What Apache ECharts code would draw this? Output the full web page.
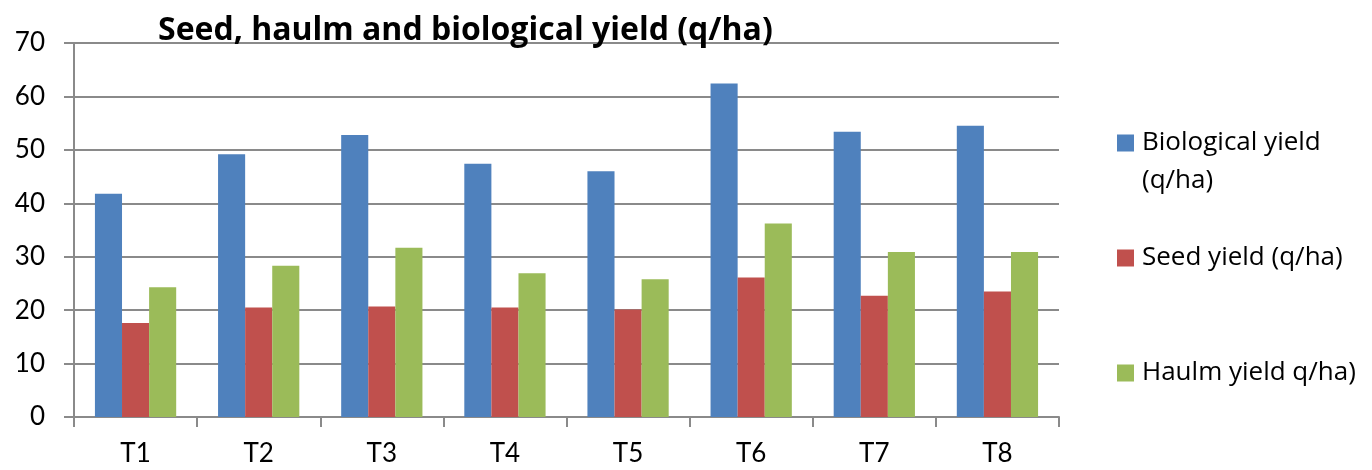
<!DOCTYPE html>
<html>
<head>
<meta charset="utf-8">
<script src="https://cdn.jsdelivr.net/npm/echarts@6/dist/echarts.min.js"></script>
<style>
html,body{margin:0;padding:0;background:#fff;}
#c{width:1372px;height:470px;}
</style>
</head>
<body>
<div id="c"></div>
<script>
const categories = ['T1','T2','T3','T4','T5','T6','T7','T8'];
const biologicalYield = [41.8, 49.2, 52.8, 47.4, 46.0, 62.4, 53.4, 54.5];
const seedYield = [17.6, 20.5, 20.7, 20.5, 20.1, 26.1, 22.7, 23.5];
const haulmYield = [24.3, 28.3, 31.7, 26.9, 25.8, 36.2, 30.9, 30.9];
const seriesNames = ['Biological yield (q/ha)', 'Seed yield (q/ha)', 'Haulm yield q/ha)'];
const yTicks = {min: 0, max: 70, interval: 10};

const FONT = 'Lato';
const LFONT = 'Open Sans';
const axisColor = '#8a8a8a';
const chart = echarts.init(document.getElementById('c'), null, {renderer: 'canvas'});

function legendAt(name, top, formatter) {
  return {
    data: [name],
    orient: 'vertical',
    left: 1117,
    top: top,
    padding: 0,
    itemWidth: 17,
    itemHeight: 17,
    icon: 'rect',
    selectedMode: false,
    formatter: formatter,
    textStyle: {
      fontFamily: LFONT,
      fontSize: 26,
      color: '#000',
      lineHeight: 38,
      padding: [0, 0, 0, 3]
    }
  };
}

chart.setOption({
  animation: false,
  backgroundColor: '#fff',
  title: {
    text: 'Seed, haulm and biological yield (q/ha)',
    left: 158,
    top: 15,
    padding: 0,
    textStyle: {fontFamily: LFONT, fontSize: 32, fontWeight: 'bold', color: '#000'}
  },
  legend: [
    legendAt(seriesNames[0], 86, function () { return '\nBiological yield\n(q/ha)'; }),
    legendAt(seriesNames[1], 239, null),
    legendAt(seriesNames[2], 354, null)
  ],
  grid: {left: 74, right: 313, top: 43, bottom: 53, containLabel: false},
  xAxis: {
    type: 'category',
    data: categories,
    boundaryGap: true,
    axisLine: {show: true, lineStyle: {color: axisColor, width: 2}},
    axisTick: {show: true, length: 10, lineStyle: {color: axisColor, width: 2}},
    axisLabel: {fontFamily: FONT, fontSize: 26, color: '#000', margin: 24},
    splitLine: {show: false}
  },
  yAxis: {
    type: 'value',
    min: yTicks.min,
    max: yTicks.max,
    interval: yTicks.interval,
    axisLine: {show: true, lineStyle: {color: axisColor, width: 2}},
    axisTick: {show: true, length: 10, lineStyle: {color: axisColor, width: 2}},
    axisLabel: {fontFamily: FONT, fontSize: 26, color: '#000', margin: 29},
    splitLine: {show: true, lineStyle: {color: axisColor, width: 2}}
  },
  series: [
    {name: seriesNames[0], type: 'bar', data: biologicalYield, itemStyle: {color: '#4F81BD'}, barGap: '0%', barCategoryGap: '34%'},
    {name: seriesNames[1], type: 'bar', data: seedYield, itemStyle: {color: '#C0504D'}, barGap: '0%', barCategoryGap: '34%'},
    {name: seriesNames[2], type: 'bar', data: haulmYield, itemStyle: {color: '#9BBB59'}, barGap: '0%', barCategoryGap: '34%'}
  ]
});
</script>
</body>
</html>
